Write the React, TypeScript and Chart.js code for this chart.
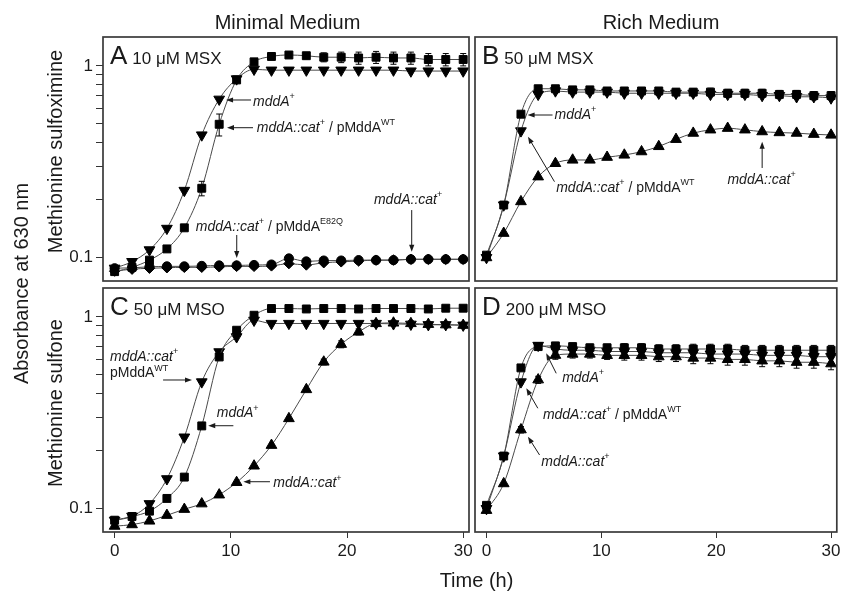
import React, { useEffect, useRef } from 'react';
import { Chart, registerables } from 'chart.js';

Chart.register(...registerables);

const FONT = "'Liberation Sans', Arial, Helvetica, sans-serif";
Chart.defaults.font.family = FONT;

// ---------- data ----------
const TIME = [0, 1.5, 3, 4.5, 6, 7.5, 9, 10.5, 12, 13.5, 15, 16.5, 18, 19.5, 21, 22.5, 24, 25.5, 27, 28.5, 30];
const X_TICKS = [0, 10, 20, 30];
const Y_TICKS = [0.1, 0.2, 0.3, 0.4, 0.5, 0.6, 0.7, 0.8, 0.9, 1];
const Y_LABELED = [0.1, 1];
const X_MIN = -1;
const X_MAX = 30.5;
const Y_MIN = 0.0755;
const Y_MAX = 1.415;

// Panel A – 10 µM MSX, minimal medium
const A_DOWN = [0.088, 0.0953, 0.1097, 0.142, 0.224, 0.436, 0.67, 0.855, 0.96, 0.95, 0.95, 0.95, 0.95, 0.95, 0.95, 0.95, 0.95, 0.94, 0.94, 0.94, 0.94];
const A_SQUARE = [0.0845, 0.089, 0.097, 0.111, 0.143, 0.23, 0.496, 0.845, 1.05, 1.12, 1.14, 1.13, 1.11, 1.11, 1.1, 1.11, 1.1, 1.1, 1.08, 1.08, 1.08];
const A_SQUARE_ERR = [0.002, 0.002, 0.002, 0.003, 0.004, 0.02, 0.065, 0.02, 0.04, 0.02, 0.03, 0.04, 0.06, 0.07, 0.08, 0.08, 0.08, 0.08, 0.08, 0.08, 0.08];
const A_CIRCLE = [0.088, 0.0885, 0.0895, 0.09, 0.09, 0.0905, 0.091, 0.091, 0.0915, 0.092, 0.099, 0.0955, 0.0965, 0.0965, 0.097, 0.097, 0.097, 0.098, 0.098, 0.098, 0.098];
const A_DIAMOND = [0.085, 0.087, 0.088, 0.0885, 0.089, 0.089, 0.0895, 0.09, 0.09, 0.0905, 0.093, 0.0915, 0.094, 0.095, 0.096, 0.097, 0.097, 0.098, 0.098, 0.098, 0.098];

// Panel B – 50 µM MSX, rich medium
const B_DOWN = [0.1, 0.188, 0.458, 0.71, 0.74, 0.73, 0.73, 0.73, 0.72, 0.72, 0.72, 0.72, 0.72, 0.71, 0.71, 0.71, 0.7, 0.7, 0.69, 0.69, 0.68];
const B_SQUARE = [0.103, 0.188, 0.56, 0.76, 0.76, 0.75, 0.75, 0.74, 0.74, 0.74, 0.74, 0.73, 0.73, 0.73, 0.72, 0.72, 0.72, 0.71, 0.71, 0.7, 0.7];
const B_SQUARE_ERR = [0, 0, 0.01, 0.02, 0.02, 0.02, 0.02, 0.02, 0.02, 0.025, 0.025, 0.03, 0.03, 0.035, 0.035, 0.035, 0.035, 0.035, 0.035, 0.035, 0.035];
const B_UP = [0.1, 0.134, 0.196, 0.264, 0.31, 0.323, 0.323, 0.334, 0.343, 0.357, 0.38, 0.414, 0.446, 0.464, 0.473, 0.464, 0.454, 0.449, 0.446, 0.44, 0.436];

// Panel C – 50 µM MSO, minimal medium
const C_DOWN = [0.0869, 0.0912, 0.106, 0.143, 0.236, 0.458, 0.657, 0.787, 0.96, 0.924, 0.924, 0.924, 0.924, 0.924, 0.924, 0.924, 0.92, 0.915, 0.91, 0.91, 0.905];
const C_SQUARE = [0.087, 0.091, 0.097, 0.113, 0.146, 0.27, 0.618, 0.852, 1.02, 1.106, 1.106, 1.1, 1.106, 1.106, 1.1, 1.106, 1.106, 1.106, 1.1, 1.11, 1.11];
const C_UP = [0.081, 0.0825, 0.0862, 0.0923, 0.0992, 0.106, 0.118, 0.137, 0.167, 0.214, 0.295, 0.418, 0.582, 0.72, 0.835, 0.924, 0.93, 0.924, 0.915, 0.91, 0.905];
const C_UP_ERR = [0, 0, 0, 0, 0, 0, 0, 0, 0, 0, 0, 0, 0.02, 0.03, 0.03, 0.03, 0.03, 0.03, 0.03, 0.03, 0.03];

// Panel D – 200 µM MSO, rich medium
const D_SQUARE = [0.104, 0.188, 0.542, 0.7, 0.706, 0.7, 0.69, 0.69, 0.69, 0.69, 0.68, 0.68, 0.68, 0.68, 0.68, 0.67, 0.67, 0.67, 0.67, 0.67, 0.67];
const D_DOWN = [0.1, 0.188, 0.458, 0.71, 0.68, 0.67, 0.67, 0.66, 0.66, 0.66, 0.65, 0.65, 0.65, 0.64, 0.64, 0.64, 0.63, 0.63, 0.63, 0.62, 0.62];
const D_UP = [0.098, 0.135, 0.258, 0.47, 0.631, 0.64, 0.64, 0.63, 0.63, 0.63, 0.62, 0.62, 0.61, 0.61, 0.6, 0.6, 0.59, 0.59, 0.58, 0.58, 0.57];
const D_ERR = [0, 0, 0.01, 0.02, 0.03, 0.03, 0.03, 0.03, 0.035, 0.035, 0.035, 0.035, 0.04, 0.04, 0.04, 0.04, 0.04, 0.04, 0.04, 0.04, 0.04];

// ---------- annotation texts ----------
type Part = { s: string; it?: boolean; sup?: boolean };
const MDDA_PLUS: Part[] = [{ s: 'mddA', it: true }, { s: '+', sup: true }];
const CAT: Part[] = [{ s: 'mddA::cat', it: true }, { s: '+', sup: true }];
const CAT_PWT: Part[] = [...CAT, { s: ' / pMddA' }, { s: 'WT', sup: true }];
const CAT_E82Q: Part[] = [...CAT, { s: ' / pMddA' }, { s: 'E82Q', sup: true }];
const PWT: Part[] = [{ s: 'pMddA' }, { s: 'WT', sup: true }];

type Note = { parts: Part[]; at: [number, number]; arrow?: [[number, number], [number, number]] };

const NOTES_A: Note[] = [
  { parts: MDDA_PLUS, at: [11.91, 0.65], arrow: [[11.74, 0.664], [9.59, 0.664]] },
  { parts: CAT_PWT, at: [12.23, 0.476], arrow: [[11.91, 0.476], [9.67, 0.476]] },
  { parts: CAT_E82Q, at: [6.98, 0.1449], arrow: [[10.51, 0.1312], [10.51, 0.0995]] },
  { parts: CAT, at: [22.32, 0.1998], arrow: [[25.57, 0.177], [25.57, 0.1073]] },
];
const NOTES_B: Note[] = [
  { parts: MDDA_PLUS, at: [5.92, 0.5544], arrow: [[5.75, 0.5544], [3.58, 0.5544]] },
  { parts: CAT_PWT, at: [6.07, 0.2307], arrow: [[5.92, 0.2489], [3.61, 0.4272]] },
  { parts: CAT, at: [20.98, 0.254], arrow: [[24.0, 0.2934], [24.0, 0.4023]] },
];
const NOTES_C: Note[] = [
  { parts: CAT, at: [-0.4, 0.6199] },
  { parts: PWT, at: [-0.4, 0.5078], arrow: [[4.17, 0.4687], [6.66, 0.4687]] },
  { parts: MDDA_PLUS, at: [8.79, 0.3142], arrow: [[10.22, 0.2706], [8.06, 0.2706]] },
  { parts: CAT, at: [13.66, 0.1355], arrow: [[13.37, 0.1381], [11.08, 0.1381]] },
];
const NOTES_D: Note[] = [
  { parts: MDDA_PLUS, at: [6.59, 0.4801], arrow: [[6.07, 0.5078], [5.2, 0.6457]] },
  { parts: CAT_PWT, at: [4.91, 0.3078], arrow: [[4.47, 0.3337], [3.47, 0.4241]] },
  { parts: CAT, at: [4.77, 0.1757], arrow: [[4.62, 0.1904], [3.61, 0.2372]] },
];

// ---------- panel definitions (layout + styling) ----------
type Series = { vals: number[]; marker: 'down' | 'up' | 'square' | 'circle' | 'diamond'; err?: number[] };
type PanelCfg = {
  letter: string;
  title: string;
  area: { l: number; t: number; r: number; b: number };
  showX: boolean;
  showY: boolean;
  series: Series[];
  notes: Note[];
  pageLabels?: boolean;
};

const PANELS: PanelCfg[] = [
  {
    letter: 'A', title: '10 \u03bcM MSX', area: { l: 103, t: 37, r: 469, b: 281 }, showX: false, showY: true,
    series: [
      { vals: A_SQUARE, marker: 'square', err: A_SQUARE_ERR },
      { vals: A_DOWN, marker: 'down' },
      { vals: A_CIRCLE, marker: 'circle' },
      { vals: A_DIAMOND, marker: 'diamond' },
    ],
    notes: NOTES_A, pageLabels: true,
  },
  {
    letter: 'B', title: '50 \u03bcM MSX', area: { l: 475, t: 37, r: 839, b: 281 }, showX: false, showY: false,
    series: [
      { vals: B_SQUARE, marker: 'square', err: B_SQUARE_ERR },
      { vals: B_DOWN, marker: 'down' },
      { vals: B_UP, marker: 'up' },
    ],
    notes: NOTES_B,
  },
  {
    letter: 'C', title: '50 \u03bcM MSO', area: { l: 103, t: 288, r: 469, b: 532 }, showX: true, showY: true,
    series: [
      { vals: C_SQUARE, marker: 'square' },
      { vals: C_DOWN, marker: 'down' },
      { vals: C_UP, marker: 'up', err: C_UP_ERR },
    ],
    notes: NOTES_C,
  },
  {
    letter: 'D', title: '200 \u03bcM MSO', area: { l: 475, t: 288, r: 839, b: 532 }, showX: true, showY: false,
    series: [
      { vals: D_SQUARE, marker: 'square', err: D_ERR },
      { vals: D_DOWN, marker: 'down', err: D_ERR },
      { vals: D_UP, marker: 'up', err: D_ERR },
    ],
    notes: NOTES_D,
  },
];

const W = 844;
const H = 591;
const Y_AXIS_W = 40;
const X_AXIS_H = 40;
const INK = '#1a1a1a';

function markerStyle(m: Series['marker']) {
  switch (m) {
    case 'down': return { pointStyle: 'triangle', pointRotation: 180, pointRadius: 6.2 };
    case 'up': return { pointStyle: 'triangle', pointRotation: 0, pointRadius: 6.2 };
    case 'square': return { pointStyle: 'rect', pointRotation: 0, pointRadius: 5.6 };
    case 'circle': return { pointStyle: 'circle', pointRotation: 0, pointRadius: 4.6 };
    default: return { pointStyle: 'rectRot', pointRotation: 0, pointRadius: 5.2 };
  }
}

function drawParts(ctx: CanvasRenderingContext2D, parts: Part[], x: number, y: number) {
  let cx = x;
  ctx.textBaseline = 'middle';
  ctx.textAlign = 'left';
  for (const p of parts) {
    if (p.sup) {
      ctx.font = `9px ${FONT}`;
      ctx.fillText(p.s, cx, y - 5);
    } else {
      ctx.font = `${p.it ? 'italic ' : ''}14px ${FONT}`;
      ctx.fillText(p.s, cx, y);
    }
    cx += ctx.measureText(p.s).width;
  }
}

function drawArrow(ctx: CanvasRenderingContext2D, x1: number, y1: number, x2: number, y2: number) {
  const ang = Math.atan2(y2 - y1, x2 - x1);
  const len = 7;
  const hw = 2.6;
  ctx.beginPath();
  ctx.moveTo(x1, y1);
  ctx.lineTo(x2 - Math.cos(ang) * (len - 1), y2 - Math.sin(ang) * (len - 1));
  ctx.strokeStyle = INK;
  ctx.lineWidth = 1;
  ctx.stroke();
  ctx.beginPath();
  ctx.moveTo(x2, y2);
  ctx.lineTo(x2 - Math.cos(ang) * len - Math.sin(ang) * hw, y2 - Math.sin(ang) * len + Math.cos(ang) * hw);
  ctx.lineTo(x2 - Math.cos(ang) * len + Math.sin(ang) * hw, y2 - Math.sin(ang) * len - Math.cos(ang) * hw);
  ctx.closePath();
  ctx.fillStyle = INK;
  ctx.fill();
}

function makePanelPlugin(cfg: PanelCfg) {
  return {
    id: 'panelDecor' + cfg.letter,
    afterDatasetsDraw(chart: any) {
      const { ctx, chartArea: a, scales } = chart;
      const xs = scales.x;
      const ys = scales.y;
      ctx.save();
      // error bars
      chart.data.datasets.forEach((ds: any) => {
        if (!ds.errors) return;
        ds.data.forEach((pt: any, i: number) => {
          const e = ds.errors[i];
          if (!e) return;
          const px = xs.getPixelForValue(pt.x);
          const yTop = ys.getPixelForValue(pt.y + e);
          const yBot = ys.getPixelForValue(Math.max(pt.y - e, 1e-4));
          ctx.beginPath();
          ctx.moveTo(px, yTop);
          ctx.lineTo(px, yBot);
          ctx.moveTo(px - 3, yTop);
          ctx.lineTo(px + 3, yTop);
          ctx.moveTo(px - 3, yBot);
          ctx.lineTo(px + 3, yBot);
          ctx.strokeStyle = '#000';
          ctx.lineWidth = 1;
          ctx.stroke();
        });
      });
      // frame
      ctx.strokeStyle = '#3a3a3a';
      ctx.lineWidth = 1.7;
      ctx.strokeRect(a.left, a.top, a.right - a.left, a.bottom - a.top);
      // panel letter + condition
      ctx.fillStyle = INK;
      ctx.textAlign = 'left';
      ctx.textBaseline = 'alphabetic';
      ctx.font = `26px ${FONT}`;
      ctx.fillText(cfg.letter, a.left + 7, a.top + 27);
      const lw = ctx.measureText(cfg.letter).width;
      ctx.font = `17px ${FONT}`;
      ctx.fillText(cfg.title, a.left + 7 + lw + 5, a.top + 27);
      // annotations
      for (const n of cfg.notes) {
        ctx.fillStyle = INK;
        drawParts(ctx, n.parts, xs.getPixelForValue(n.at[0]), ys.getPixelForValue(n.at[1]));
        if (n.arrow) {
          const [[t1, v1], [t2, v2]] = n.arrow;
          drawArrow(ctx, xs.getPixelForValue(t1), ys.getPixelForValue(v1), xs.getPixelForValue(t2), ys.getPixelForValue(v2));
        }
      }
      // page-level titles
      if (cfg.pageLabels) {
        ctx.fillStyle = INK;
        ctx.textAlign = 'center';
        ctx.textBaseline = 'alphabetic';
        ctx.font = `20px ${FONT}`;
        ctx.fillText('Minimal Medium', 287.5, 28.5);
        ctx.fillText('Rich Medium', 661, 28.5);
        ctx.fillText('Time (h)', 476.5, 587);
        const vert = (txt: string, x: number, y: number) => {
          ctx.save();
          ctx.translate(x, y);
          ctx.rotate(-Math.PI / 2);
          ctx.fillText(txt, 0, 0);
          ctx.restore();
        };
        vert('Absorbance at 630 nm', 27.5, 283.5);
        vert('Methionine sulfoximine', 61.5, 151.5);
        vert('Methionine sulfone', 61.5, 403);
      }
      ctx.restore();
    },
  };
}

function buildConfig(cfg: PanelCfg): any {
  const { area } = cfg;
  return {
    type: 'line',
    data: {
      datasets: cfg.series.map((s) => ({
        data: TIME.map((t, i) => ({ x: t, y: s.vals[i] })),
        errors: s.err,
        borderColor: '#4a4a4a',
        borderWidth: 1,
        backgroundColor: '#000',
        pointBackgroundColor: '#000',
        pointBorderColor: '#000',
        pointBorderWidth: 1,
        cubicInterpolationMode: 'monotone',
        fill: false,
        ...markerStyle(s.marker),
      })),
    },
    options: {
      responsive: false,
      animation: false,
      events: [],
      layout: {
        padding: {
          left: cfg.showY ? area.l - Y_AXIS_W : area.l,
          top: area.t,
          right: W - area.r,
          bottom: cfg.showX ? H - area.b - X_AXIS_H : H - area.b,
        },
      },
      plugins: { legend: { display: false }, tooltip: { enabled: false } },
      scales: {
        x: {
          type: 'linear',
          min: X_MIN,
          max: X_MAX,
          display: cfg.showX,
          afterBuildTicks: (s: any) => { s.ticks = X_TICKS.map((v) => ({ value: v })); },
          afterFit: (s: any) => {
            s.paddingLeft = 0;
            s.paddingRight = 0;
            s.height = cfg.showX ? X_AXIS_H : 0;
          },
          grid: { drawOnChartArea: false, drawTicks: true, tickLength: 6, color: '#333', lineWidth: 1 },
          border: { display: false },
          ticks: { autoSkip: false, maxRotation: 0, padding: 3, color: INK, font: { size: 17, family: FONT } },
        },
        y: {
          type: 'logarithmic',
          min: Y_MIN,
          max: Y_MAX,
          display: cfg.showY,
          afterBuildTicks: (s: any) => { s.ticks = Y_TICKS.map((v) => ({ value: v })); },
          afterFit: (s: any) => {
            s.paddingTop = 0;
            s.paddingBottom = 0;
            s.width = cfg.showY ? Y_AXIS_W : 0;
          },
          grid: { drawOnChartArea: false, drawTicks: true, tickLength: 7, color: '#333', lineWidth: 1 },
          border: { display: false },
          ticks: {
            autoSkip: false,
            padding: 3,
            color: INK,
            font: { size: 17, family: FONT },
            callback: (v: number) => (Y_LABELED.includes(v) ? String(v) : ''),
          },
        },
      },
    },
    plugins: [makePanelPlugin(cfg)],
  };
}

function Panel({ cfg }: { cfg: PanelCfg }) {
  const ref = useRef<HTMLCanvasElement>(null);
  useEffect(() => {
    const chart = new Chart(ref.current as HTMLCanvasElement, buildConfig(cfg));
    return () => chart.destroy();
  }, [cfg]);
  return (
    <canvas
      ref={ref}
      width={W}
      height={H}
      style={{ position: 'absolute', left: 0, top: 0, width: W, height: H }}
    />
  );
}

export default function App() {
  return (
    <div style={{ position: 'absolute', left: 0, top: 0, width: W, height: H, background: '#fff', overflow: 'hidden' }}>
      {PANELS.map((p) => (
        <Panel key={p.letter} cfg={p} />
      ))}
    </div>
  );
}
